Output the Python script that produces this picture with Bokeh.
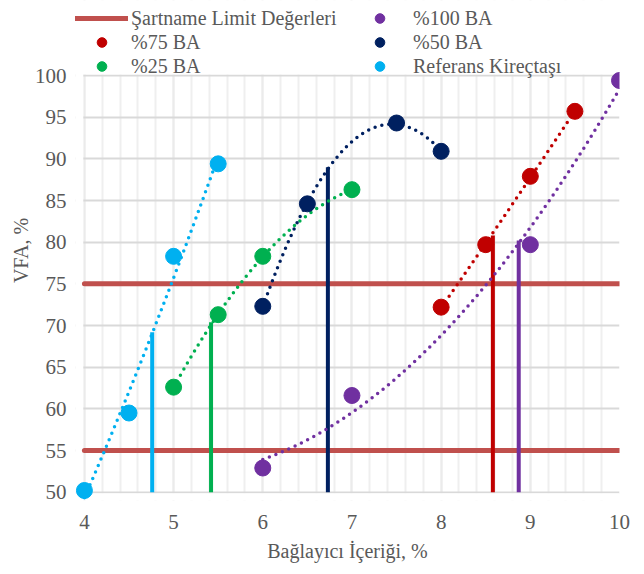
import numpy as np
from bokeh.plotting import figure
from bokeh.models import Legend, LegendItem, FixedTicker, BoxAnnotation
from bokeh.embed import file_html
from bokeh.resources import INLINE

# ---- data ----
x_ref = [4.0, 4.5, 5.0, 5.5]
y_ref = [50.2, 59.5, 78.3, 89.4]
x_25 = [5.0, 5.5, 6.0, 7.0]
y_25 = [62.6, 71.3, 78.3, 86.3]
x_50 = [6.0, 6.5, 7.5, 8.0]
y_50 = [72.3, 84.6, 94.3, 90.9]
x_75 = [8.0, 8.5, 9.0, 9.5]
y_75 = [72.2, 79.7, 87.9, 95.7]
x_100 = [6.0, 7.0, 9.0, 10.0]
y_100 = [52.9, 61.6, 79.7, 99.4]

limit_values = [75, 55]
limit_x_start = [4, 4]
limit_x_end = [10, 10]

opt_x = [4.76, 5.42, 6.73, 8.58, 8.87]
opt_bottom = [50, 50, 50, 50, 50]
opt_top = [69.2, 70.4, 89.0, 80.8, 80.2]

x_ticks = [4, 5, 6, 7, 8, 9, 10]
y_ticks = [50, 55, 60, 65, 70, 75, 80, 85, 90, 95, 100]
x_axis_min, x_axis_max = 4, 10
y_axis_min, y_axis_max = 50, 100

C_REF, C_25, C_50, C_75, C_100 = "#00B0F0", "#00B050", "#002060", "#C00000", "#7030A0"
C_LIM = "#C0504D"
opt_colors = [C_REF, C_25, C_50, C_75, C_100]

FONT = "Liberation Serif"
TXT = "#595959"
FS = "21px"

# the frame is a little larger than the axis box (so edge markers are not clipped)
# and also holds the legend band above the 100 line
p = figure(width=636, height=566, x_range=(3.9, 10), y_range=(49, 109.0),
           output_backend="svg", toolbar_location=None,
           min_border_left=75, min_border_right=17, min_border_top=0, min_border_bottom=66)
p.outline_line_color = None
p.background_fill_color = "white"
p.border_fill_color = "white"

# axes
for ax in (p.xaxis[0], p.yaxis[0]):
    ax.axis_line_color = None
    ax.major_tick_line_color = None
    ax.minor_tick_line_color = None
    ax.major_tick_out = 0
    ax.major_tick_in = 0
    ax.minor_tick_out = 0
    ax.minor_tick_in = 0
    ax.major_label_text_font = FONT
    ax.major_label_text_font_size = FS
    ax.major_label_text_color = TXT
    ax.axis_label_text_font = FONT
    ax.axis_label_text_font_size = "20px"
    ax.axis_label_text_font_style = "normal"
    ax.axis_label_text_color = TXT
p.xaxis.ticker = FixedTicker(ticks=x_ticks,
                             minor_ticks=[round(4 + 0.2 * i, 1) for i in range(31)])
p.yaxis.ticker = FixedTicker(ticks=y_ticks)
p.xaxis.axis_label = "Bağlayıcı İçeriği, %"
p.yaxis.axis_label = "VFA, %"
p.xaxis.major_label_standoff = 14
p.xaxis.axis_label_standoff = 8
p.yaxis.major_label_standoff = 9
p.yaxis.axis_label_standoff = 0

# grid
p.xgrid.grid_line_color = "#EBEBEB"
p.xgrid.grid_line_width = 2
p.xgrid.minor_grid_line_color = "#EFEFEF"
p.xgrid.minor_grid_line_width = 2
p.ygrid.grid_line_color = "#D9D9D9"
p.ygrid.grid_line_width = 2

# white bands hide the grid outside the axis box (legend area and frame padding)
for box in (BoxAnnotation(bottom=y_axis_max + 0.13),
            BoxAnnotation(top=y_axis_min - 0.13),
            BoxAnnotation(right=x_axis_min - 0.013)):
    box.fill_color = "white"
    box.fill_alpha = 1
    box.line_color = None
    box.level = "underlay"
    p.add_layout(box)

# limit lines
r_lim = p.segment(x0=limit_x_start, x1=limit_x_end, y0=limit_values, y1=limit_values,
                  line_color=C_LIM, line_width=5, line_cap="round")

# vertical optimum lines
p.segment(x0=opt_x, x1=opt_x, y0=opt_bottom, y1=opt_top, line_color=opt_colors, line_width=4)

series = [
    (x_ref, y_ref, C_REF, "Referans Kireçtaşı"),
    (x_25, y_25, C_25, "%25 BA"),
    (x_50, y_50, C_50, "%50 BA"),
    (x_75, y_75, C_75, "%75 BA"),
    (x_100, y_100, C_100, "%100 BA"),
]

renderers = {}
for xs, ys, col, name in series:
    coef = np.polyfit(xs, ys, 2)
    xt = np.linspace(min(xs), max(xs), 120)
    p.line(xt, np.polyval(coef, xt), line_color=col, line_width=3.5,
           line_dash="0 7", line_cap="round")
for xs, ys, col, name in series:
    renderers[name] = p.scatter(xs, ys, size=16, fill_color=col, line_color=col, marker="circle")


def make_legend(items, loc, standoff):
    return Legend(items=[LegendItem(label=l, renderers=[r]) for l, r in items], location=loc,
                  orientation="vertical", glyph_width=53, glyph_height=24, label_height=20,
                  spacing=0, padding=0, margin=0, label_standoff=standoff,
                  label_text_font=FONT, label_text_font_size="20px", label_text_color=TXT,
                  border_line_color=None, background_fill_alpha=0)


leg1 = make_legend([("Şartname Limit Değerleri", r_lim), ("%75 BA", renderers["%75 BA"]),
                    ("%25 BA", renderers["%25 BA"])], (0, 422), 3)
leg2 = make_legend([("%100 BA", renderers["%100 BA"]), ("%50 BA", renderers["%50 BA"]),
                    ("Referans Kireçtaşı", renderers["Referans Kireçtaşı"])], (278, 422), 7)
p.add_layout(leg1, "center")
p.add_layout(leg2, "center")

open("out.html", "w").write(file_html(p, INLINE))
